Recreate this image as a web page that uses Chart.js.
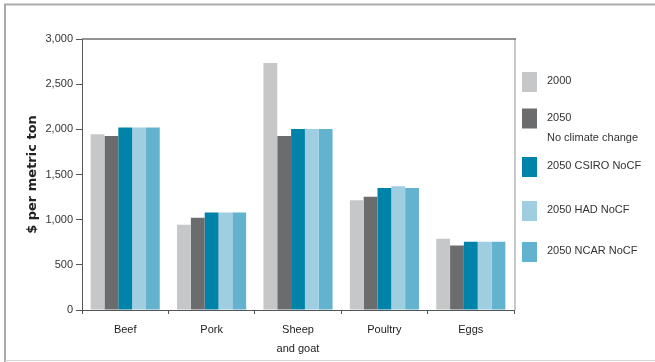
<!DOCTYPE html>
<html>
<head>
<meta charset="utf-8">
<script src="https://cdn.jsdelivr.net/npm/chart.js@4.4.1/dist/chart.umd.min.js"></script>
<style>
  html, body { margin: 0; padding: 0; background: #ffffff; }
  #wrap { width: 655px; height: 362px; position: relative; }
</style>
</head>
<body>
<div id="wrap"><canvas id="c" width="655" height="362"></canvas></div>
<script>
// Livestock product prices, $ per metric ton
const categories = ['Beef', 'Pork', ['Sheep', 'and goat'], 'Poultry', 'Eggs'];
const seriesNames = ['2000', '2050 No climate change', '2050 CSIRO NoCF', '2050 HAD NoCF', '2050 NCAR NoCF'];
const legendLines = [['2000'], ['2050', 'No climate change'], ['2050 CSIRO NoCF'], ['2050 HAD NoCF'], ['2050 NCAR NoCF']];
const price2000  = [1945,  945, 2735, 1215, 790];
const priceNoCC  = [1925, 1020, 1925, 1255, 715];
const priceCSIRO = [2020, 1080, 2005, 1350, 755];
const priceHAD   = [2020, 1080, 2005, 1370, 755];
const priceNCAR  = [2020, 1080, 2005, 1350, 755];
const yTicks = [0, 500, 1000, 1500, 2000, 2500, 3000];

const colors = ['#c6c7c9', '#6b6c6e', '#0083a9', '#a0cee1', '#63b3cf'];
const seriesValues = [price2000, priceNoCC, priceCSIRO, priceHAD, priceNCAR];

const FONT = "'Liberation Sans', Arial, sans-serif";

// Outer frame and the top/right box edges of the plot
const framePlugin = {
  id: 'frame',
  beforeDraw(chart) {
    const ctx = chart.ctx;
    ctx.save();
    ctx.strokeStyle = '#a9a9a9';
    ctx.lineWidth = 2;
    ctx.beginPath();
    ctx.moveTo(5, 362);
    ctx.lineTo(5, 4.5);
    ctx.lineTo(655, 4.5);
    ctx.stroke();
    ctx.strokeStyle = '#d4d4d4';
    ctx.lineWidth = 1;
    ctx.beginPath();
    ctx.moveTo(5, 360.5);
    ctx.lineTo(655, 360.5);
    ctx.stroke();
    ctx.restore();
  },
  afterDatasetsDraw(chart) {
    const a = chart.chartArea;
    const ctx = chart.ctx;
    ctx.save();
    ctx.strokeStyle = '#c8c8c8';
    ctx.lineWidth = 2;
    ctx.beginPath();
    ctx.moveTo(a.right + 1, a.top);
    ctx.lineTo(a.right + 1, a.bottom);
    ctx.stroke();
    ctx.strokeStyle = '#6f6f6f';
    ctx.lineWidth = 1.5;
    ctx.beginPath();
    ctx.moveTo(a.left, a.top);
    ctx.lineTo(a.right + 2, a.top);
    ctx.stroke();
    ctx.restore();
  }
};

// Legend to the right of the plot, one swatch per series
const sideLegend = {
  id: 'sideLegend',
  afterDraw(chart) {
    const ctx = chart.ctx;
    const x = chart.chartArea.right + 8;
    const rowCentres = [82, 118.5, 167, 211, 252];
    ctx.save();
    ctx.font = '11px ' + FONT;
    ctx.textBaseline = 'middle';
    ctx.textAlign = 'left';
    chart.data.datasets.forEach((ds, i) => {
      const cy = rowCentres[i];
      ctx.fillStyle = ds.backgroundColor;
      ctx.fillRect(x, cy - 10, 15, 20);
      ctx.fillStyle = '#333333';
      legendLines[i].forEach((line, j) => {
        ctx.fillText(line, x + 25, cy - 1 + j * 20);
      });
    });
    ctx.restore();
  }
};

new Chart(document.getElementById('c'), {
  type: 'bar',
  data: {
    labels: categories,
    datasets: seriesNames.map((name, i) => ({
      label: name,
      data: seriesValues[i],
      backgroundColor: colors[i],
      borderWidth: 0,
      barPercentage: 1.0,
      categoryPercentage: 0.8
    }))
  },
  options: {
    responsive: false,
    animation: false,
    layout: { padding: { left: 0, top: 39, right: 141, bottom: 0 } },
    plugins: {
      legend: { display: false },
      tooltip: { enabled: false }
    },
    scales: {
      x: {
        afterFit(scale) { scale.height = 52; },
        offset: true,
        grid: {
          offset: true,
          drawOnChartArea: false,
          tickLength: 4,
          color: '#555555'
        },
        border: { display: true, color: '#555555', width: 1 },
        ticks: {
          color: '#222222',
          font: { family: FONT, size: 11, lineHeight: 1.75 },
          padding: 6
        }
      },
      y: {
        min: 0,
        max: 3000,
        afterFit(scale) { scale.width = 82; },
        afterBuildTicks(scale) { scale.ticks = yTicks.map(v => ({ value: v })); },
        grid: {
          drawOnChartArea: false,
          tickLength: 6,
          color: '#555555'
        },
        border: { display: true, color: '#555555', width: 1 },
        ticks: {
          color: '#333333',
          font: { family: FONT, size: 11 },
          padding: 3,
          callback: v => v.toLocaleString('en-US')
        },
        title: {
          display: true,
          text: '$ per metric ton',
          color: '#222222',
          font: { family: "'DejaVu Sans', sans-serif", size: 13, weight: 'bold' },
          padding: { top: 25, bottom: 0 }
        }
      }
    }
  },
  plugins: [framePlugin, sideLegend]
});
</script>
</body>
</html>
